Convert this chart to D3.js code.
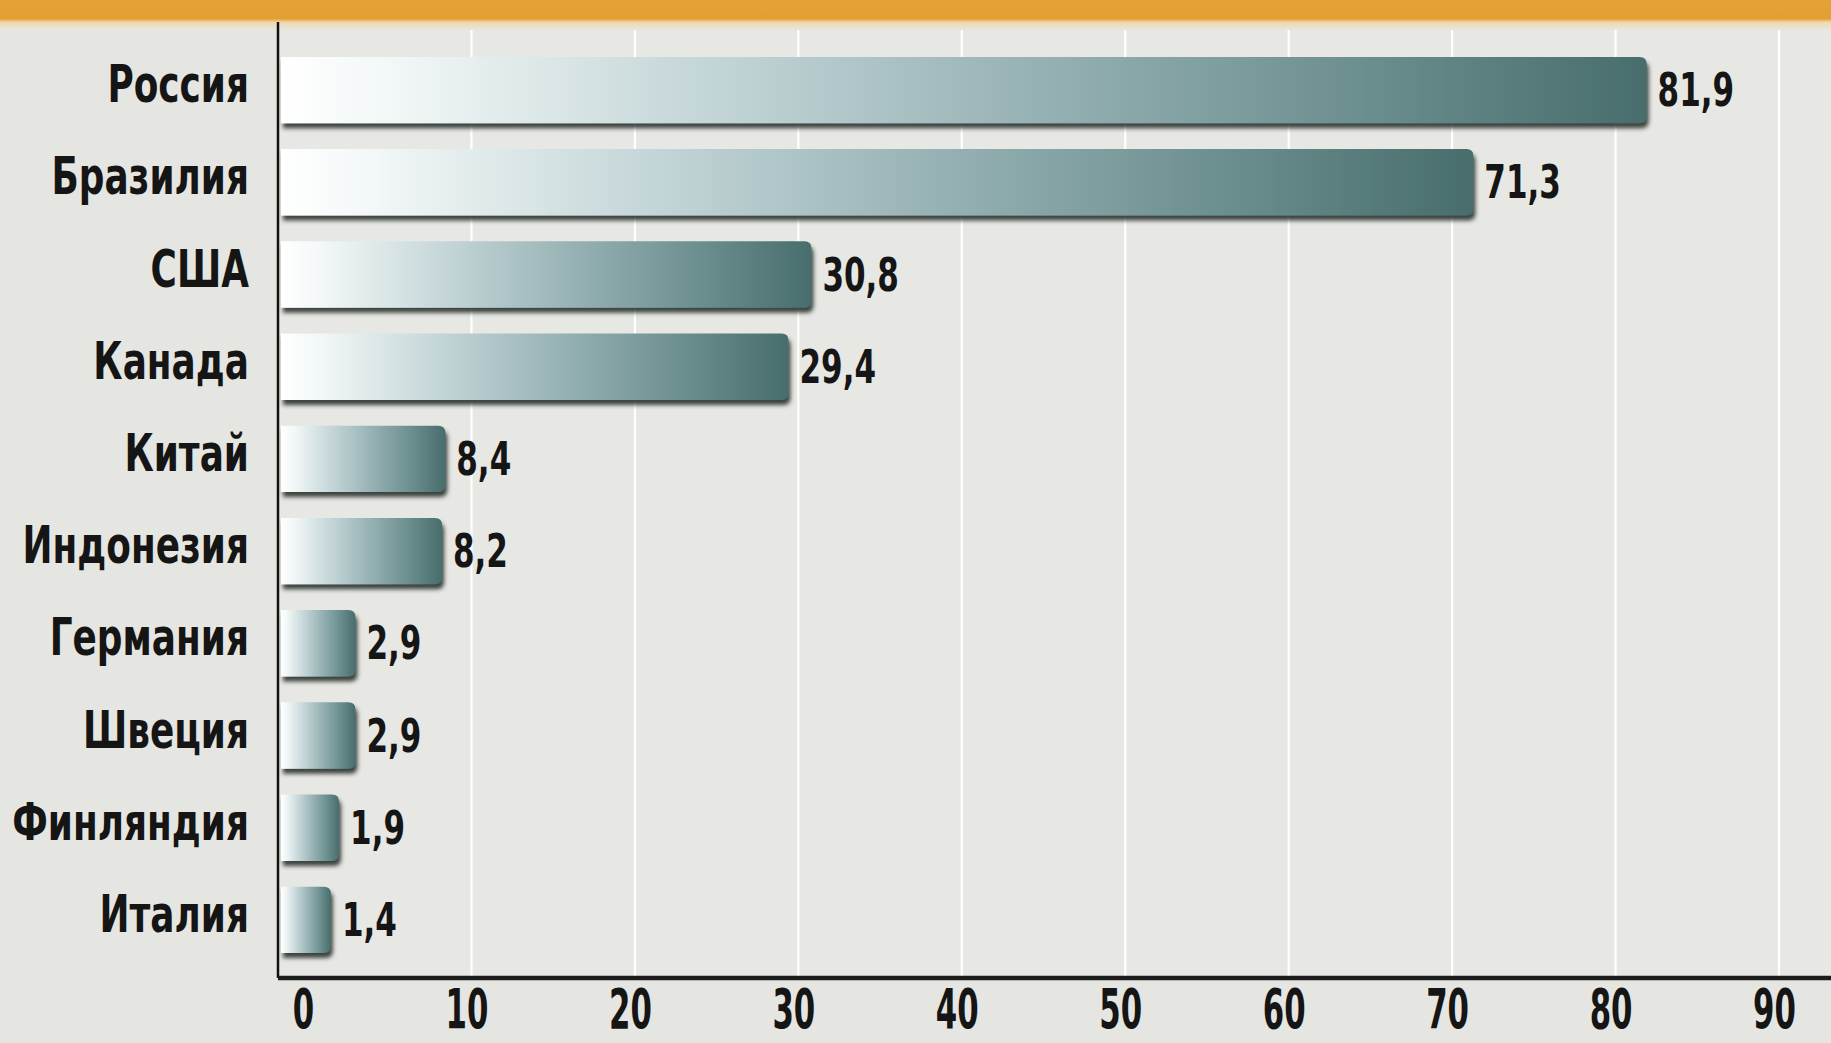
<!DOCTYPE html>
<html><head><meta charset="utf-8">
<script src="https://cdn.jsdelivr.net/npm/d3@7"></script>
<style>
html,body{margin:0;padding:0;background:#e5e5e1;overflow:hidden;}
svg{display:block;}
text{font-family:"DejaVu Sans",sans-serif;font-weight:bold;fill:#151515;}
</style></head>
<body>
<svg id="chart" width="1831" height="1043"></svg>
<script>
const categories = ["Россия","Бразилия","США","Канада","Китай","Индонезия","Германия","Швеция","Финляндия","Италия"];
const values = [81.9, 71.3, 30.8, 29.4, 8.4, 8.2, 2.9, 2.9, 1.9, 1.4];
const valueLabels = ["81,9","71,3","30,8","29,4","8,4","8,2","2,9","2,9","1,9","1,4"];
const tickValues = [0,10,20,30,40,50,60,70,80,90];

const W = 1831, H = 1043;
const axisX = 278, axisY = 978, plotTop = 22;
const svg = d3.select("#chart");

const x = d3.scaleLinear().domain([0, 90]).range([308, 1779]);
const y = d3.scaleBand().domain(categories).range([44, 966]).paddingInner(0.28).paddingOuter(0.14);

const defs = svg.append("defs");
const grad = defs.append("linearGradient").attr("id","barGrad").attr("x1","0").attr("x2","1").attr("y1","0").attr("y2","0");
[[0,"#ffffff"],[0.08,"#f2f7f7"],[0.3,"#c6d7d9"],[0.55,"#97b2b4"],[0.8,"#6a8d8d"],[1,"#486d6c"]]
  .forEach(([o,c]) => grad.append("stop").attr("offset",o).attr("stop-color",c));
const topGrad = defs.append("linearGradient").attr("id","topGrad").attr("x1","0").attr("x2","0").attr("y1","0").attr("y2","1");
[[0,"#e4a238"],[0.62,"#e2a033"],[0.75,"#efd9b0"],[1,"#e8e6e0"]]
  .forEach(([o,c]) => topGrad.append("stop").attr("offset",o).attr("stop-color",c));
const f = defs.append("filter").attr("id","shadow").attr("x","-10%").attr("y","-20%").attr("width","130%").attr("height","160%");
f.append("feDropShadow").attr("dx",2).attr("dy",5).attr("stdDeviation",2.2).attr("flood-color","#26302f").attr("flood-opacity",0.9);

// background
svg.append("rect").attr("x",0).attr("y",0).attr("width",W).attr("height",H).attr("fill","#e5e5e1");
svg.append("rect").attr("x",axisX).attr("y",plotTop).attr("width",W-axisX).attr("height",axisY-plotTop).attr("fill","#e7e7e3");

// grid lines
svg.append("g").selectAll("line").data(tickValues.filter(d=>d>0)).join("line")
  .attr("x1",d=>x(d)).attr("x2",d=>x(d)).attr("y1",plotTop).attr("y2",axisY)
  .attr("stroke","#ffffff").attr("stroke-width",2.2);

// top orange band
svg.append("rect").attr("x",0).attr("y",0).attr("width",W).attr("height",30).attr("fill","url(#topGrad)");

// bars
const x0 = axisX + 3;
function barPath(d){
  const x1 = x(d.v), yt = y(d.c), h = y.bandwidth(), r = Math.min(7, (x1-x0)/2);
  return `M${x0},${yt} L${x1-r},${yt} Q${x1},${yt} ${x1},${yt+r} L${x1},${yt+h-r} Q${x1},${yt+h} ${x1-r},${yt+h} L${x0},${yt+h} Z`;
}
const data = categories.map((c,i)=>({c, v: values[i], lab: valueLabels[i]}));
svg.append("g").selectAll("path").data(data).join("path")
  .attr("d", barPath).attr("fill","url(#barGrad)").attr("filter","url(#shadow)");

// value labels (condensed)
svg.append("g").selectAll("text").data(data).join("text")
  .attr("transform", d => `translate(${x(d.v) + 11},${y(d.c) + y.bandwidth()/2 + 16}) scale(0.66,1)`)
  .attr("font-size", 47).text(d => d.lab);

// category labels (condensed)
svg.append("g").selectAll("text").data(data).join("text")
  .attr("transform", d => `translate(249,${y(d.c) + y.bandwidth()/2 + 12}) scale(0.69,1)`)
  .attr("text-anchor","end").attr("font-size", 52).text(d => d.c);

// axes lines
svg.append("line").attr("x1",axisX).attr("x2",axisX).attr("y1",plotTop).attr("y2",axisY)
  .attr("stroke","#111").attr("stroke-width",2.5);
svg.append("line").attr("x1",axisX).attr("x2",W).attr("y1",axisY).attr("y2",axisY)
  .attr("stroke","#1c1c1c").attr("stroke-width",4.5);

// x tick labels
const xAxis = d3.axisBottom(x).tickValues(tickValues).tickSize(0).tickPadding(0).tickFormat(d3.format("d"));
const gx = svg.append("g").attr("transform",`translate(-5,1028)`).call(xAxis);
gx.select(".domain").remove();
gx.selectAll("text").attr("dy",0).attr("y",0).attr("font-size",56)
  .attr("transform","scale(0.55,1)")
  .style("font-family",'"DejaVu Sans",sans-serif').style("font-weight","bold").attr("fill","#151515");
</script>
</body></html>
